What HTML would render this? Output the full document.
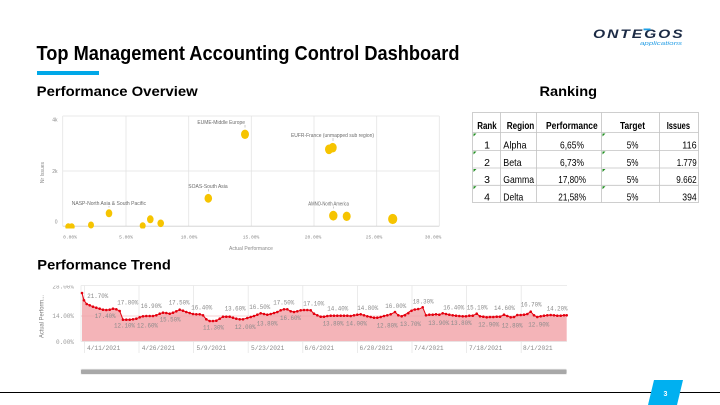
<!DOCTYPE html>
<html>
<head>
<meta charset="utf-8">
<style>
html,body{margin:0;padding:0;background:#fff;}
svg{display:block;}
</style>
</head>
<body>
<svg width="720" height="405" viewBox="0 0 720 405" xmlns="http://www.w3.org/2000/svg" font-family="Liberation Sans, sans-serif">
<rect width="720" height="405" fill="#fff"/>

<!-- Logo -->
<g transform="translate(593,38) scale(1.3,1)">
<text x="0" y="0" font-size="12" font-weight="bold" font-style="italic" fill="#1b2a44" letter-spacing="1.5">ONTEGOS</text>
</g>
<rect x="643.5" y="28.5" width="7" height="1.8" fill="#1ea0e6"/>
<text x="640" y="45" font-size="5.5" font-style="italic" fill="#2aa0e6" textLength="42" lengthAdjust="spacingAndGlyphs">applications</text>

<!-- Title -->
<text x="36.5" y="60" font-size="20" font-weight="bold" fill="#000" textLength="423" lengthAdjust="spacingAndGlyphs">Top Management Accounting Control Dashboard</text>
<rect x="37" y="71" width="62" height="4" fill="#00a8e8"/>

<text x="36.7" y="96" font-size="14" font-weight="bold" fill="#000" textLength="161" lengthAdjust="spacingAndGlyphs">Performance Overview</text>
<text x="539.5" y="96" font-size="14" font-weight="bold" fill="#000" textLength="57.5" lengthAdjust="spacingAndGlyphs">Ranking</text>
<text x="37.3" y="269.5" font-size="14" font-weight="bold" fill="#000" textLength="133.5" lengthAdjust="spacingAndGlyphs">Performance Trend</text>

<!-- Scatter chart -->
<g stroke="#e3e3e3" stroke-width="0.8">
  <line x1="62.7" y1="116" x2="439.3" y2="116"/>
  <line x1="62.7" y1="171" x2="439.3" y2="171"/>
  <line x1="62.7" y1="116" x2="62.7" y2="226"/>
  <line x1="126" y1="116" x2="126" y2="226"/>
  <line x1="188.7" y1="116" x2="188.7" y2="226"/>
  <line x1="251.3" y1="116" x2="251.3" y2="226"/>
  <line x1="314" y1="116" x2="314" y2="226"/>
  <line x1="376.7" y1="116" x2="376.7" y2="226"/>
  <line x1="439.3" y1="116" x2="439.3" y2="226"/>
</g>
<line x1="62.7" y1="226.2" x2="439.3" y2="226.2" stroke="#cfcfcf" stroke-width="0.8"/>
<g font-size="5" fill="#8a8a8a" text-anchor="end">
  <text x="57.5" y="121.5">4k</text>
  <text x="57.5" y="173">2k</text>
  <text x="57.5" y="223.5">0</text>
</g>
<text transform="translate(44,172.5) rotate(-90)" font-size="5" fill="#8a8a8a" text-anchor="middle">Nr Issues</text>
<g font-size="4.6" fill="#8a8a8a" text-anchor="middle" font-family="Liberation Mono, monospace">
  <text x="70" y="238.5">0.00%</text>
  <text x="126" y="238.5">5.00%</text>
  <text x="189" y="238.5">10.00%</text>
  <text x="251" y="238.5">15.00%</text>
  <text x="313" y="238.5">20.00%</text>
  <text x="374" y="238.5">25.00%</text>
  <text x="433" y="238.5">30.00%</text>
</g>
<text x="251" y="250" font-size="5" fill="#8a8a8a" text-anchor="middle">Actual Performance</text>

<defs><clipPath id="sc"><rect x="60" y="110" width="385" height="118.5"/></clipPath></defs>
<g fill="#f6c400" clip-path="url(#sc)">
  <ellipse cx="245" cy="134.3" rx="4" ry="4.7"/>
  <ellipse cx="329" cy="149.3" rx="4" ry="4.8"/>
  <ellipse cx="332.7" cy="147.7" rx="4" ry="4.8"/>
  <ellipse cx="208.3" cy="198.3" rx="3.8" ry="4.4"/>
  <ellipse cx="109" cy="213.3" rx="3.3" ry="4"/>
  <ellipse cx="333.3" cy="215.7" rx="4.2" ry="4.9"/>
  <ellipse cx="346.7" cy="216.3" rx="4" ry="4.7"/>
  <ellipse cx="392.7" cy="219" rx="4.6" ry="5.1"/>
  <ellipse cx="68.3" cy="226.7" rx="3" ry="3.5"/>
  <ellipse cx="71.7" cy="226.7" rx="3" ry="3.5"/>
  <ellipse cx="91" cy="225" rx="3" ry="3.5"/>
  <ellipse cx="142.7" cy="225.7" rx="3" ry="3.5"/>
  <ellipse cx="150.3" cy="219.3" rx="3.3" ry="4"/>
  <ellipse cx="160.7" cy="223.3" rx="3.3" ry="3.8"/>
</g>
<g stroke="#9a9a9a" stroke-width="0.5">
  <line x1="245" y1="125" x2="245" y2="127.5"/>
  <line x1="333" y1="138" x2="333" y2="141"/>
  <line x1="208.3" y1="189" x2="208.3" y2="191.5"/>
  <line x1="109" y1="206" x2="109" y2="207.5"/>
  <line x1="333.3" y1="206.5" x2="333.3" y2="208.5"/>
</g>
<g font-size="5.5" fill="#6a6a6a">
  <text x="197.4" y="124" textLength="47.6" lengthAdjust="spacingAndGlyphs">EUME-Middle Europe</text>
  <text x="291" y="137" textLength="83" lengthAdjust="spacingAndGlyphs">EUFR-France (unmapped sub region)</text>
  <text x="188.3" y="188" textLength="39.4" lengthAdjust="spacingAndGlyphs">SOAS-South Asia</text>
  <text x="71.7" y="205" textLength="74.3" lengthAdjust="spacingAndGlyphs">NASP-North Asia &amp; South Pacific</text>
  <text x="308.3" y="205.5" textLength="40.7" lengthAdjust="spacingAndGlyphs">AMNO-North America</text>
</g>

<!-- Ranking table -->
<g stroke="#c2c2c2" stroke-width="0.8" fill="none">
  <rect x="472.5" y="112.5" width="226" height="90"/>
  <line x1="472.5" y1="132.5" x2="698.5" y2="132.5"/>
  <line x1="472.5" y1="150.5" x2="698.5" y2="150.5"/>
  <line x1="472.5" y1="168" x2="698.5" y2="168"/>
  <line x1="472.5" y1="185.3" x2="698.5" y2="185.3"/>
  <line x1="500.5" y1="112.5" x2="500.5" y2="202.5"/>
  <line x1="536.5" y1="112.5" x2="536.5" y2="202.5"/>
  <line x1="601.5" y1="112.5" x2="601.5" y2="202.5"/>
  <line x1="659.5" y1="112.5" x2="659.5" y2="202.5"/>
</g>
<g fill="#1e8c1e">
  <polygon points="473.5,133.5 476.5,133.5 473.5,136.5"/>
  <polygon points="473.5,151.5 476.5,151.5 473.5,154.5"/>
  <polygon points="473.5,169 476.5,169 473.5,172"/>
  <polygon points="473.5,186.3 476.5,186.3 473.5,189.3"/>
  <polygon points="602.5,133.5 605.5,133.5 602.5,136.5"/>
  <polygon points="602.5,151.5 605.5,151.5 602.5,154.5"/>
  <polygon points="602.5,169 605.5,169 602.5,172"/>
  <polygon points="602.5,186.3 605.5,186.3 602.5,189.3"/>
</g>
<g font-size="10.5" font-weight="bold" fill="#000">
  <text x="477.3" y="129" textLength="19.4" lengthAdjust="spacingAndGlyphs">Rank</text>
  <text x="506.7" y="129" textLength="27.6" lengthAdjust="spacingAndGlyphs">Region</text>
  <text x="546" y="129" textLength="51.7" lengthAdjust="spacingAndGlyphs">Performance</text>
  <text x="620" y="129" textLength="25" lengthAdjust="spacingAndGlyphs">Target</text>
  <text x="666.7" y="129" textLength="23.3" lengthAdjust="spacingAndGlyphs">Issues</text>
</g>
<g font-size="10.5" fill="#000">
  <text x="487" y="148.5" text-anchor="middle">1</text>
  <text x="487" y="166" text-anchor="middle">2</text>
  <text x="487" y="183.2" text-anchor="middle">3</text>
  <text x="487" y="200.3" text-anchor="middle">4</text>
  <text x="503.3" y="148.5" textLength="23.3" lengthAdjust="spacingAndGlyphs">Alpha</text>
  <text x="503.3" y="166" textLength="18.3" lengthAdjust="spacingAndGlyphs">Beta</text>
  <text x="503.3" y="183.2" textLength="30.7" lengthAdjust="spacingAndGlyphs">Gamma</text>
  <text x="503.3" y="200.3" textLength="20" lengthAdjust="spacingAndGlyphs">Delta</text>
  <text x="560" y="148.5" textLength="24" lengthAdjust="spacingAndGlyphs">6,65%</text>
  <text x="560" y="166" textLength="24" lengthAdjust="spacingAndGlyphs">6,73%</text>
  <text x="558.3" y="183.2" textLength="27.7" lengthAdjust="spacingAndGlyphs">17,80%</text>
  <text x="558.3" y="200.3" textLength="27.7" lengthAdjust="spacingAndGlyphs">21,58%</text>
  <text x="626.7" y="148.5" textLength="11.7" lengthAdjust="spacingAndGlyphs">5%</text>
  <text x="626.7" y="166" textLength="11.7" lengthAdjust="spacingAndGlyphs">5%</text>
  <text x="626.7" y="183.2" textLength="11.7" lengthAdjust="spacingAndGlyphs">5%</text>
  <text x="626.7" y="200.3" textLength="11.7" lengthAdjust="spacingAndGlyphs">5%</text>
  <text x="682.3" y="148.5" textLength="14.4" lengthAdjust="spacingAndGlyphs">116</text>
  <text x="676.7" y="166" textLength="20" lengthAdjust="spacingAndGlyphs">1.779</text>
  <text x="676.3" y="183.2" textLength="20.4" lengthAdjust="spacingAndGlyphs">9.662</text>
  <text x="682.3" y="200.3" textLength="14.4" lengthAdjust="spacingAndGlyphs">394</text>
</g>

<!-- Trend chart -->
<g stroke="#e6e6e6" stroke-width="0.8">
  <line x1="81" y1="285.5" x2="567" y2="285.5"/>
  <line x1="84.4" y1="285.5" x2="84.4" y2="353"/>
  <line x1="139" y1="285.5" x2="139" y2="353"/>
  <line x1="193.6" y1="285.5" x2="193.6" y2="353"/>
  <line x1="248.2" y1="285.5" x2="248.2" y2="353"/>
  <line x1="302.8" y1="285.5" x2="302.8" y2="353"/>
  <line x1="357.4" y1="285.5" x2="357.4" y2="353"/>
  <line x1="412" y1="285.5" x2="412" y2="353"/>
  <line x1="466.6" y1="285.5" x2="466.6" y2="353"/>
  <line x1="521.2" y1="285.5" x2="521.2" y2="353"/>
  <line x1="81" y1="285.5" x2="81" y2="341.5"/>
</g>

<polygon fill="#f4b4b8" points="82,341.5 82,293 84,300.3 86.7,304 89.7,305.3 93,306.7 96.3,307.7 99.7,308.7 103,309.7 106.3,310 109.7,309.7 113,308.7 116.3,309.3 119.7,311 123,319.7 126.3,319.7 129.7,319.7 133,319.3 136.3,318.7 139.7,317.3 143,316.3 146.3,316 149.7,316 153,316 156.3,315.3 159.7,313.7 163,312.7 166.3,313 169.7,313.7 173,312.7 176.3,311.3 179.7,309.7 183,310.7 186.3,312 189.7,313 193,314 196.3,314.3 199.7,314.3 203,315.3 206.3,319.3 209.7,321 213,321 216.3,320.7 219.7,318.7 223,316.7 226.3,316.7 229.7,316.7 233,317.7 236.3,318.7 239.7,319.3 243,319.3 247.3,318 250.7,317 254,316 257.3,314.7 260.7,313.3 264,314 267.3,314.7 270.7,314 274,313 277.3,312 280.7,310.3 284,309.3 287.3,309.3 290.7,311.3 294,312 297.3,311.3 300.7,310.3 304,310 307.3,310 310.7,310.3 314,313.7 317.3,315.3 320.7,316.7 324,316.7 327.3,316 330.7,315.7 334,315.7 337.3,315.7 340.7,315.7 344,315.7 347.3,315.7 350.7,316 354,315.3 357.3,314.7 360.7,314.3 364,315.3 367.3,316.3 370.7,317 374,317.7 377.3,317.7 380.7,317 384,316 387.3,315.3 390.7,314.3 395,312 398.3,315.3 401.7,316.3 403.3,315.3 406.7,313.7 410,311.3 413.3,309.7 416.7,309.3 420,308.7 422.7,307.3 426,315.3 429.3,314.7 432.7,314.7 436,314.3 439.3,314.7 442.7,313.3 446,314 449.3,314.7 452.7,315.3 456,315.7 459.3,316 462.7,316.3 466,316.3 469.3,315.7 472.7,315.7 476.7,313.7 480,316.3 483.3,316.7 486.7,317.3 490,317 493.3,317 496.7,316.7 500,316.7 504,314.7 507.3,316 510.7,317.3 514,317 517.3,315 520.7,315 524,314.7 527.3,314 530.7,311.7 534,315.3 537.3,317 540.7,316.3 544,315.7 547.3,315.3 550.7,315 554,315.3 557.3,315.7 560.7,315.7 564,315.3 566.7,315.3 566.7,341.5"/>
<line x1="81" y1="316" x2="567" y2="316" stroke="#e9a3a7" stroke-width="0.6"/>
<line x1="81" y1="341.5" x2="567" y2="341.5" stroke="#e6e6e6" stroke-width="0.8"/>

<polyline fill="none" stroke="#e4000f" stroke-width="1" points="82,293 84,300.3 86.7,304 89.7,305.3 93,306.7 96.3,307.7 99.7,308.7 103,309.7 106.3,310 109.7,309.7 113,308.7 116.3,309.3 119.7,311 123,319.7 126.3,319.7 129.7,319.7 133,319.3 136.3,318.7 139.7,317.3 143,316.3 146.3,316 149.7,316 153,316 156.3,315.3 159.7,313.7 163,312.7 166.3,313 169.7,313.7 173,312.7 176.3,311.3 179.7,309.7 183,310.7 186.3,312 189.7,313 193,314 196.3,314.3 199.7,314.3 203,315.3 206.3,319.3 209.7,321 213,321 216.3,320.7 219.7,318.7 223,316.7 226.3,316.7 229.7,316.7 233,317.7 236.3,318.7 239.7,319.3 243,319.3 247.3,318 250.7,317 254,316 257.3,314.7 260.7,313.3 264,314 267.3,314.7 270.7,314 274,313 277.3,312 280.7,310.3 284,309.3 287.3,309.3 290.7,311.3 294,312 297.3,311.3 300.7,310.3 304,310 307.3,310 310.7,310.3 314,313.7 317.3,315.3 320.7,316.7 324,316.7 327.3,316 330.7,315.7 334,315.7 337.3,315.7 340.7,315.7 344,315.7 347.3,315.7 350.7,316 354,315.3 357.3,314.7 360.7,314.3 364,315.3 367.3,316.3 370.7,317 374,317.7 377.3,317.7 380.7,317 384,316 387.3,315.3 390.7,314.3 395,312 398.3,315.3 401.7,316.3 403.3,315.3 406.7,313.7 410,311.3 413.3,309.7 416.7,309.3 420,308.7 422.7,307.3 426,315.3 429.3,314.7 432.7,314.7 436,314.3 439.3,314.7 442.7,313.3 446,314 449.3,314.7 452.7,315.3 456,315.7 459.3,316 462.7,316.3 466,316.3 469.3,315.7 472.7,315.7 476.7,313.7 480,316.3 483.3,316.7 486.7,317.3 490,317 493.3,317 496.7,316.7 500,316.7 504,314.7 507.3,316 510.7,317.3 514,317 517.3,315 520.7,315 524,314.7 527.3,314 530.7,311.7 534,315.3 537.3,317 540.7,316.3 544,315.7 547.3,315.3 550.7,315 554,315.3 557.3,315.7 560.7,315.7 564,315.3 566.7,315.3"/>
<g fill="#e4000f">
<circle cx="82" cy="293" r="1.3"/><circle cx="84" cy="300.3" r="1.3"/><circle cx="86.7" cy="304" r="1.3"/><circle cx="89.7" cy="305.3" r="1.3"/><circle cx="93" cy="306.7" r="1.3"/><circle cx="96.3" cy="307.7" r="1.3"/><circle cx="99.7" cy="308.7" r="1.3"/><circle cx="103" cy="309.7" r="1.3"/><circle cx="106.3" cy="310" r="1.3"/><circle cx="109.7" cy="309.7" r="1.3"/><circle cx="113" cy="308.7" r="1.3"/><circle cx="116.3" cy="309.3" r="1.3"/><circle cx="119.7" cy="311" r="1.3"/><circle cx="123" cy="319.7" r="1.3"/><circle cx="126.3" cy="319.7" r="1.3"/><circle cx="129.7" cy="319.7" r="1.3"/><circle cx="133" cy="319.3" r="1.3"/><circle cx="136.3" cy="318.7" r="1.3"/><circle cx="139.7" cy="317.3" r="1.3"/><circle cx="143" cy="316.3" r="1.3"/><circle cx="146.3" cy="316" r="1.3"/><circle cx="149.7" cy="316" r="1.3"/><circle cx="153" cy="316" r="1.3"/><circle cx="156.3" cy="315.3" r="1.3"/><circle cx="159.7" cy="313.7" r="1.3"/><circle cx="163" cy="312.7" r="1.3"/><circle cx="166.3" cy="313" r="1.3"/><circle cx="169.7" cy="313.7" r="1.3"/><circle cx="173" cy="312.7" r="1.3"/><circle cx="176.3" cy="311.3" r="1.3"/><circle cx="179.7" cy="309.7" r="1.3"/><circle cx="183" cy="310.7" r="1.3"/><circle cx="186.3" cy="312" r="1.3"/><circle cx="189.7" cy="313" r="1.3"/><circle cx="193" cy="314" r="1.3"/><circle cx="196.3" cy="314.3" r="1.3"/><circle cx="199.7" cy="314.3" r="1.3"/><circle cx="203" cy="315.3" r="1.3"/><circle cx="206.3" cy="319.3" r="1.3"/><circle cx="209.7" cy="321" r="1.3"/><circle cx="213" cy="321" r="1.3"/><circle cx="216.3" cy="320.7" r="1.3"/><circle cx="219.7" cy="318.7" r="1.3"/><circle cx="223" cy="316.7" r="1.3"/><circle cx="226.3" cy="316.7" r="1.3"/><circle cx="229.7" cy="316.7" r="1.3"/><circle cx="233" cy="317.7" r="1.3"/><circle cx="236.3" cy="318.7" r="1.3"/><circle cx="239.7" cy="319.3" r="1.3"/><circle cx="243" cy="319.3" r="1.3"/><circle cx="247.3" cy="318" r="1.3"/><circle cx="250.7" cy="317" r="1.3"/><circle cx="254" cy="316" r="1.3"/><circle cx="257.3" cy="314.7" r="1.3"/><circle cx="260.7" cy="313.3" r="1.3"/><circle cx="264" cy="314" r="1.3"/><circle cx="267.3" cy="314.7" r="1.3"/><circle cx="270.7" cy="314" r="1.3"/><circle cx="274" cy="313" r="1.3"/><circle cx="277.3" cy="312" r="1.3"/><circle cx="280.7" cy="310.3" r="1.3"/><circle cx="284" cy="309.3" r="1.3"/><circle cx="287.3" cy="309.3" r="1.3"/><circle cx="290.7" cy="311.3" r="1.3"/><circle cx="294" cy="312" r="1.3"/><circle cx="297.3" cy="311.3" r="1.3"/><circle cx="300.7" cy="310.3" r="1.3"/><circle cx="304" cy="310" r="1.3"/><circle cx="307.3" cy="310" r="1.3"/><circle cx="310.7" cy="310.3" r="1.3"/><circle cx="314" cy="313.7" r="1.3"/><circle cx="317.3" cy="315.3" r="1.3"/><circle cx="320.7" cy="316.7" r="1.3"/><circle cx="324" cy="316.7" r="1.3"/><circle cx="327.3" cy="316" r="1.3"/><circle cx="330.7" cy="315.7" r="1.3"/><circle cx="334" cy="315.7" r="1.3"/><circle cx="337.3" cy="315.7" r="1.3"/><circle cx="340.7" cy="315.7" r="1.3"/><circle cx="344" cy="315.7" r="1.3"/><circle cx="347.3" cy="315.7" r="1.3"/><circle cx="350.7" cy="316" r="1.3"/><circle cx="354" cy="315.3" r="1.3"/><circle cx="357.3" cy="314.7" r="1.3"/><circle cx="360.7" cy="314.3" r="1.3"/><circle cx="364" cy="315.3" r="1.3"/><circle cx="367.3" cy="316.3" r="1.3"/><circle cx="370.7" cy="317" r="1.3"/><circle cx="374" cy="317.7" r="1.3"/><circle cx="377.3" cy="317.7" r="1.3"/><circle cx="380.7" cy="317" r="1.3"/><circle cx="384" cy="316" r="1.3"/><circle cx="387.3" cy="315.3" r="1.3"/><circle cx="390.7" cy="314.3" r="1.3"/><circle cx="395" cy="312" r="1.3"/><circle cx="398.3" cy="315.3" r="1.3"/><circle cx="401.7" cy="316.3" r="1.3"/><circle cx="405" cy="315.3" r="1.3"/><circle cx="408.3" cy="313.2" r="1.3"/><circle cx="411.5" cy="310.8" r="1.3"/><circle cx="414.8" cy="309.5" r="1.3"/><circle cx="418.2" cy="309" r="1.3"/><circle cx="422.7" cy="307.3" r="1.3"/><circle cx="426" cy="315.3" r="1.3"/><circle cx="429.3" cy="314.7" r="1.3"/><circle cx="432.7" cy="314.7" r="1.3"/><circle cx="436" cy="314.3" r="1.3"/><circle cx="439.3" cy="314.7" r="1.3"/><circle cx="442.7" cy="313.3" r="1.3"/><circle cx="446" cy="314" r="1.3"/><circle cx="449.3" cy="314.7" r="1.3"/><circle cx="452.7" cy="315.3" r="1.3"/><circle cx="456" cy="315.7" r="1.3"/><circle cx="459.3" cy="316" r="1.3"/><circle cx="462.7" cy="316.3" r="1.3"/><circle cx="466" cy="316.3" r="1.3"/><circle cx="469.3" cy="315.7" r="1.3"/><circle cx="472.7" cy="315.7" r="1.3"/><circle cx="476.7" cy="313.7" r="1.3"/><circle cx="480" cy="316.3" r="1.3"/><circle cx="483.3" cy="316.7" r="1.3"/><circle cx="486.7" cy="317.3" r="1.3"/><circle cx="490" cy="317" r="1.3"/><circle cx="493.3" cy="317" r="1.3"/><circle cx="496.7" cy="316.7" r="1.3"/><circle cx="500" cy="316.7" r="1.3"/><circle cx="504" cy="314.7" r="1.3"/><circle cx="507.3" cy="316" r="1.3"/><circle cx="510.7" cy="317.3" r="1.3"/><circle cx="514" cy="317" r="1.3"/><circle cx="517.3" cy="315" r="1.3"/><circle cx="520.7" cy="315" r="1.3"/><circle cx="524" cy="314.7" r="1.3"/><circle cx="527.3" cy="314" r="1.3"/><circle cx="530.7" cy="311.7" r="1.3"/><circle cx="534" cy="315.3" r="1.3"/><circle cx="537.3" cy="317" r="1.3"/><circle cx="540.7" cy="316.3" r="1.3"/><circle cx="544" cy="315.7" r="1.3"/><circle cx="547.3" cy="315.3" r="1.3"/><circle cx="550.7" cy="315" r="1.3"/><circle cx="554" cy="315.3" r="1.3"/><circle cx="557.3" cy="315.7" r="1.3"/><circle cx="560.7" cy="315.7" r="1.3"/><circle cx="564" cy="315.3" r="1.3"/><circle cx="566.7" cy="315.3" r="1.3"/>
</g>

<!-- data labels -->
<g font-family="Liberation Mono, monospace" font-size="6" fill="#8a8a8a">
  <text x="87.3" y="298" textLength="21" lengthAdjust="spacingAndGlyphs">21.70%</text>
  <text x="94.7" y="318" textLength="21" lengthAdjust="spacingAndGlyphs">17.40%</text>
  <text x="117.3" y="304.7" textLength="21" lengthAdjust="spacingAndGlyphs">17.80%</text>
  <text x="114" y="327.3" textLength="21" lengthAdjust="spacingAndGlyphs">12.10%</text>
  <text x="140.7" y="308" textLength="21" lengthAdjust="spacingAndGlyphs">16.90%</text>
  <text x="137" y="327.3" textLength="21" lengthAdjust="spacingAndGlyphs">12.60%</text>
  <text x="168.7" y="304.7" textLength="21" lengthAdjust="spacingAndGlyphs">17.50%</text>
  <text x="159.7" y="321.3" textLength="21" lengthAdjust="spacingAndGlyphs">15.50%</text>
  <text x="191.3" y="309.3" textLength="21" lengthAdjust="spacingAndGlyphs">16.40%</text>
  <text x="203" y="329.7" textLength="21" lengthAdjust="spacingAndGlyphs">11.30%</text>
  <text x="224.7" y="310.7" textLength="21" lengthAdjust="spacingAndGlyphs">13.60%</text>
  <text x="234.7" y="329" textLength="21" lengthAdjust="spacingAndGlyphs">12.00%</text>
  <text x="249.3" y="309" textLength="21" lengthAdjust="spacingAndGlyphs">16.50%</text>
  <text x="273.3" y="304.7" textLength="21" lengthAdjust="spacingAndGlyphs">17.50%</text>
  <text x="256.7" y="325.7" textLength="21" lengthAdjust="spacingAndGlyphs">13.80%</text>
  <text x="280" y="320" textLength="21" lengthAdjust="spacingAndGlyphs">16.60%</text>
  <text x="303.3" y="305.7" textLength="21" lengthAdjust="spacingAndGlyphs">17.10%</text>
  <text x="327.3" y="310.7" textLength="21" lengthAdjust="spacingAndGlyphs">14.40%</text>
  <text x="322.7" y="325.7" textLength="21" lengthAdjust="spacingAndGlyphs">13.80%</text>
  <text x="346" y="325.7" textLength="21" lengthAdjust="spacingAndGlyphs">14.00%</text>
  <text x="357.3" y="310" textLength="21" lengthAdjust="spacingAndGlyphs">14.80%</text>
  <text x="385.3" y="308" textLength="21" lengthAdjust="spacingAndGlyphs">16.00%</text>
  <text x="376.7" y="327.3" textLength="21" lengthAdjust="spacingAndGlyphs">12.80%</text>
  <text x="400" y="326" textLength="21" lengthAdjust="spacingAndGlyphs">13.70%</text>
  <text x="412.7" y="303.3" textLength="21" lengthAdjust="spacingAndGlyphs">18.30%</text>
  <text x="428.3" y="325" textLength="21" lengthAdjust="spacingAndGlyphs">13.90%</text>
  <text x="443.3" y="309.3" textLength="21" lengthAdjust="spacingAndGlyphs">16.40%</text>
  <text x="450.7" y="325" textLength="21" lengthAdjust="spacingAndGlyphs">13.80%</text>
  <text x="466.7" y="309.3" textLength="21" lengthAdjust="spacingAndGlyphs">15.10%</text>
  <text x="478.3" y="326.7" textLength="21" lengthAdjust="spacingAndGlyphs">12.90%</text>
  <text x="494" y="310" textLength="21" lengthAdjust="spacingAndGlyphs">14.60%</text>
  <text x="501.7" y="327.3" textLength="21" lengthAdjust="spacingAndGlyphs">12.80%</text>
  <text x="520.7" y="306.7" textLength="21" lengthAdjust="spacingAndGlyphs">16.70%</text>
  <text x="528.3" y="326.7" textLength="21" lengthAdjust="spacingAndGlyphs">12.90%</text>
  <text x="546.7" y="310.7" textLength="21" lengthAdjust="spacingAndGlyphs">14.20%</text>
</g>

<!-- y axis labels trend -->
<defs><clipPath id="tc"><rect x="40" y="285.5" width="40" height="70"/></clipPath></defs>
<g font-family="Liberation Mono, monospace" font-size="6" fill="#9a9a9a" text-anchor="end" clip-path="url(#tc)">
  <text x="74" y="288.5">28.00%</text>
  <text x="74" y="318">14.00%</text>
  <text x="74" y="344">0.00%</text>
</g>
<text transform="translate(43.5,316.5) rotate(-90)" font-size="6" fill="#7a7a7a" text-anchor="middle" textLength="43" lengthAdjust="spacingAndGlyphs">Actual Perform...</text>

<g font-family="Liberation Mono, monospace" font-size="6.2" fill="#8a8a8a">
  <text x="87" y="350" textLength="33.3" lengthAdjust="spacingAndGlyphs">4/11/2021</text>
  <text x="141.7" y="350" textLength="33.3" lengthAdjust="spacingAndGlyphs">4/26/2021</text>
  <text x="196.5" y="350" textLength="29.6" lengthAdjust="spacingAndGlyphs">5/9/2021</text>
  <text x="251" y="350" textLength="33.3" lengthAdjust="spacingAndGlyphs">5/23/2021</text>
  <text x="304.5" y="350" textLength="29.6" lengthAdjust="spacingAndGlyphs">6/6/2021</text>
  <text x="359.5" y="350" textLength="33.3" lengthAdjust="spacingAndGlyphs">6/20/2021</text>
  <text x="414" y="350" textLength="29.6" lengthAdjust="spacingAndGlyphs">7/4/2021</text>
  <text x="469" y="350" textLength="33.3" lengthAdjust="spacingAndGlyphs">7/18/2021</text>
  <text x="523" y="350" textLength="29.6" lengthAdjust="spacingAndGlyphs">8/1/2021</text>
</g>

<!-- scrollbar -->
<rect x="80.5" y="368.8" width="486.5" height="6" rx="1" fill="#ececec"/>
<rect x="81" y="369.5" width="485.5" height="4.5" rx="1" fill="#a8a8a8"/>

<!-- footer -->
<line x1="0" y1="392.5" x2="720" y2="392.5" stroke="#000" stroke-width="1"/>
<polygon points="654,380 683,380 677,405 648,405" fill="#00b0f0"/>
<text x="665.5" y="396" font-size="7" font-weight="bold" fill="#fff" text-anchor="middle">3</text>
</svg>
</body>
</html>
